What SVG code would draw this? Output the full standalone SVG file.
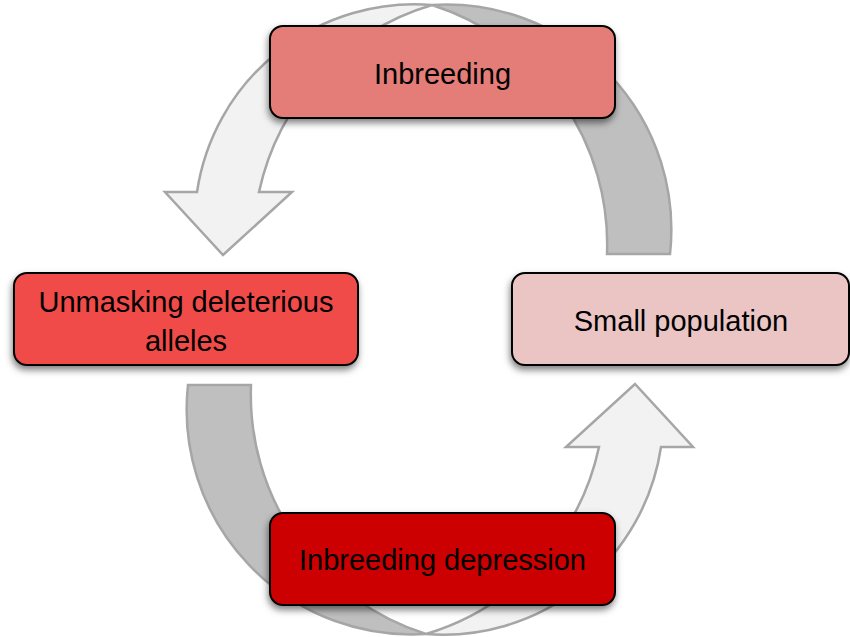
<svg xmlns="http://www.w3.org/2000/svg" width="850" height="637" viewBox="0 0 850 637">
  <defs>
    <filter id="sh" x="-10%" y="-20%" width="125%" height="150%">
      <feDropShadow dx="-1" dy="4" stdDeviation="3.5" flood-color="#000" flood-opacity="0.5"/>
    </filter>
    <path id="arcLight" d="M432,5 A220,220 0 0 0 197,192 L165,192 L223,255 L292,192 L259,192 A250,250 0 0 1 432,5 Z"/>
    <path id="arcDark" d="M432,5 A225,225 0 0 1 670,254 L607,254 A251,251 0 0 0 432,5 Z"/>
  </defs>
  <style>
    .light { fill: #F2F2F2; stroke: #A6A6A6; stroke-width: 2.5; stroke-linejoin: miter; }
    .dark { fill: #BFBFBF; stroke: #A6A6A6; stroke-width: 2.5; stroke-linejoin: miter; }
    .box { stroke: #000; stroke-width: 2; filter: url(#sh); }
    .lbl { font-family: "Liberation Sans", Arial, sans-serif; font-size: 29px; fill: #000; text-anchor: middle; }
  </style>
  <rect width="850" height="637" fill="#fff"/>
  <g id="connectors">
    <use href="#arcDark" class="dark"/>
    <use href="#arcLight" class="light"/>
    <g transform="rotate(180 429 319.5)">
      <use href="#arcDark" class="dark"/>
      <use href="#arcLight" class="light"/>
    </g>
  </g>
  <g id="node-inbreeding">
    <rect class="box" x="270" y="26" width="345" height="92" rx="13" fill="#E47D77"/>
    <text class="lbl" x="442.5" y="84">Inbreeding</text>
  </g>
  <g id="node-unmasking">
    <rect class="box" x="14" y="273" width="344" height="92" rx="13" fill="#F04B48"/>
    <text class="lbl" x="186" y="312">Unmasking deleterious</text>
    <text class="lbl" x="186" y="351">alleles</text>
  </g>
  <g id="node-small-population">
    <rect class="box" x="512" y="273" width="337" height="92" rx="13" fill="#EBC5C4"/>
    <text class="lbl" x="681" y="331">Small population</text>
  </g>
  <g id="node-inbreeding-depression">
    <rect class="box" x="270" y="513" width="345" height="92" rx="13" fill="#CC0202"/>
    <text class="lbl" x="442.5" y="570">Inbreeding depression</text>
  </g>
</svg>
